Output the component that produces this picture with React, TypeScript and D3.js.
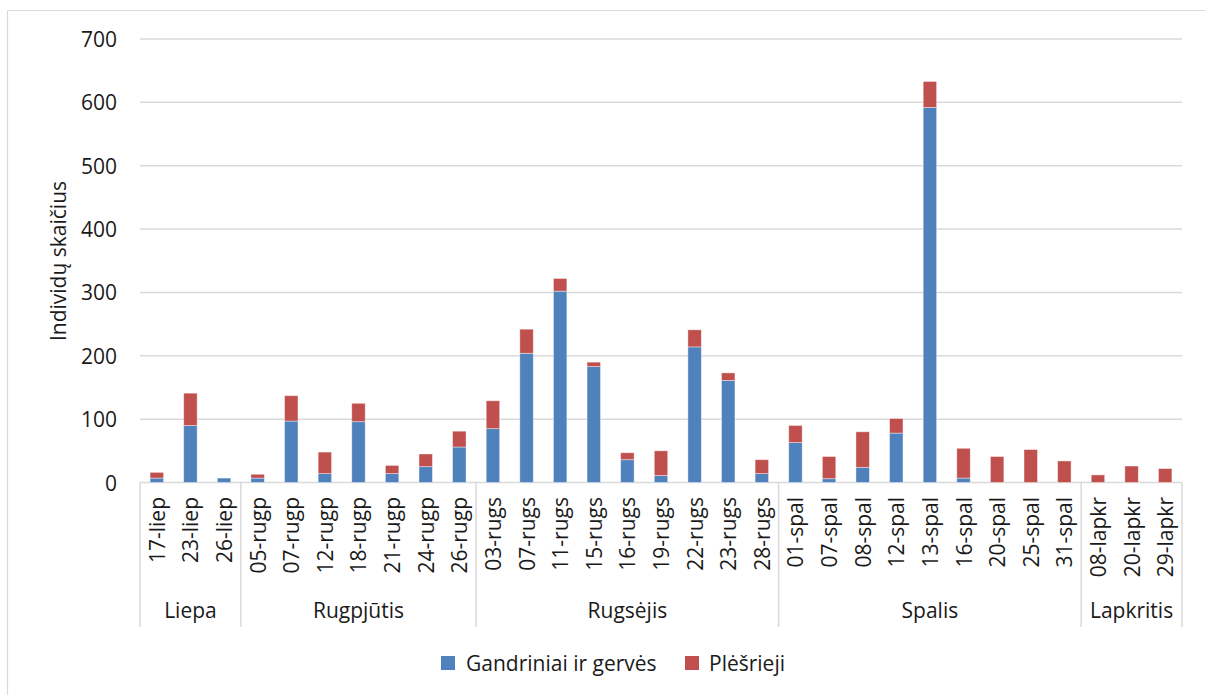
import React from "react";
import * as d3 from "d3";

const categories = [
  "17-liep", "23-liep", "26-liep",
  "05-rugp", "07-rugp", "12-rugp", "18-rugp", "21-rugp", "24-rugp", "26-rugp",
  "03-rugs", "07-rugs", "11-rugs", "15-rugs", "16-rugs", "19-rugs", "22-rugs", "23-rugs", "28-rugs",
  "01-spal", "07-spal", "08-spal", "12-spal", "13-spal", "16-spal", "20-spal", "25-spal", "31-spal",
  "08-lapkr", "20-lapkr", "29-lapkr",
];

const gandriniai = [
  7, 90, 7,
  7, 97, 14, 96, 14, 25, 56,
  85, 204, 302, 183, 36, 11, 214, 161, 14,
  63, 6, 24, 78, 592, 7, 0, 0, 0,
  0, 0, 0,
];

const plesrieji = [
  9, 51, 0,
  6, 40, 34, 29, 13, 20, 25,
  44, 38, 20, 7, 11, 39, 27, 12, 22,
  27, 35, 56, 23, 41, 47, 41, 52, 34,
  12, 26, 22,
];

const months = ["Liepa", "Rugpjūtis", "Rugsėjis", "Spalis", "Lapkritis"];
const monthCounts = [3, 7, 9, 9, 3];

const yTicks = [0, 100, 200, 300, 400, 500, 600, 700];
const seriesNames = ["Gandriniai ir gervės", "Plėšrieji"];
const colors = ["#4F81BD", "#C0504D"];

const FONT = "'Open Sans', sans-serif";

export default function App() {
  const W = 1205;
  const H = 695;
  const x = d3
    .scaleBand<string>()
    .domain(categories)
    .range([140, 1182])
    .paddingInner(0.6)
    .paddingOuter(0.3);
  const y = d3.scaleLinear().domain([0, 700]).range([482.5, 39]);

  const rows = categories.map((c, i) => ({ cat: c, g: gandriniai[i], p: plesrieji[i] }));
  const stack = d3.stack<any>().keys(["g", "p"])(rows);

  const step = x.step();
  const x0 = 140;
  let acc = 0;
  const bounds: number[] = [x0];
  monthCounts.forEach((n) => {
    acc += n;
    bounds.push(x0 + acc * step);
  });

  const textColor = "#1a1a1a";
  const gridColor = "#d9d9d9";
  const fs = 21;

  return (
    <svg width={W} height={H} style={{ position: "absolute", left: 0, top: 0, background: "#fff" }}>
      <rect x={0} y={0} width={W} height={H} fill="#fff" />
      <line x1={7.5} y1={10.5} x2={W} y2={10.5} stroke={gridColor} strokeWidth={1.2} />
      <line x1={7.5} y1={10.5} x2={7.5} y2={H} stroke={gridColor} strokeWidth={1.2} />

      {yTicks.map((t) => (
        <g key={t}>
          <line x1={140} x2={1182} y1={y(t)} y2={y(t)} stroke={gridColor} strokeWidth={1.5} />
          <text
            x={117}
            y={y(t)}
            textAnchor="end"
            dominantBaseline="central"
            fontFamily={FONT}
            fontSize={fs}
            fill={textColor}
          >
            {t}
          </text>
        </g>
      ))}

      {stack.map((s, si) => (
        <g key={si} fill={colors[si]}>
          {s.map((d: any, i: number) => {
            const h = y(d[0]) - y(d[1]);
            if (h <= 0) return null;
            return (
              <rect
                key={i}
                x={x(categories[i])}
                y={y(d[1])}
                width={x.bandwidth()}
                height={h}
                stroke="#ffffff"
                strokeOpacity={0.5}
                strokeWidth={0.8}
              />
            );
          })}
        </g>
      ))}

      {bounds.map((b, i) => (
        <line key={i} x1={b} x2={b} y1={482.5} y2={627} stroke={gridColor} strokeWidth={1.5} />
      ))}

      {categories.map((c) => {
        const cx = (x(c) as number) + x.bandwidth() / 2;
        return (
          <text
            key={c}
            transform={`translate(${cx},497) rotate(-90)`}
            textAnchor="end"
            dominantBaseline="central"
            fontFamily={FONT}
            fontSize={fs}
            fill={textColor}
          >
            {c}
          </text>
        );
      })}

      {months.map((m, i) => (
        <text
          key={m}
          x={(bounds[i] + bounds[i + 1]) / 2}
          y={610}
          textAnchor="middle"
          dominantBaseline="central"
          fontFamily={FONT}
          fontSize={fs}
          fill={textColor}
        >
          {m}
        </text>
      ))}

      <text
        transform={`translate(58,261) rotate(-90)`}
        textAnchor="middle"
        dominantBaseline="central"
        fontFamily={FONT}
        fontSize={fs}
        fill={textColor}
      >
        Individų skaičius
      </text>

      <g>
        <rect x={441} y={656} width={14} height={14} fill={colors[0]} />
        <text x={466} y={663} dominantBaseline="central" fontFamily={FONT} fontSize={fs} fill={textColor}>
          {seriesNames[0]}
        </text>
        <rect x={685} y={656} width={14} height={14} fill={colors[1]} />
        <text x={709} y={663} dominantBaseline="central" fontFamily={FONT} fontSize={fs} fill={textColor}>
          {seriesNames[1]}
        </text>
      </g>
    </svg>
  );
}
